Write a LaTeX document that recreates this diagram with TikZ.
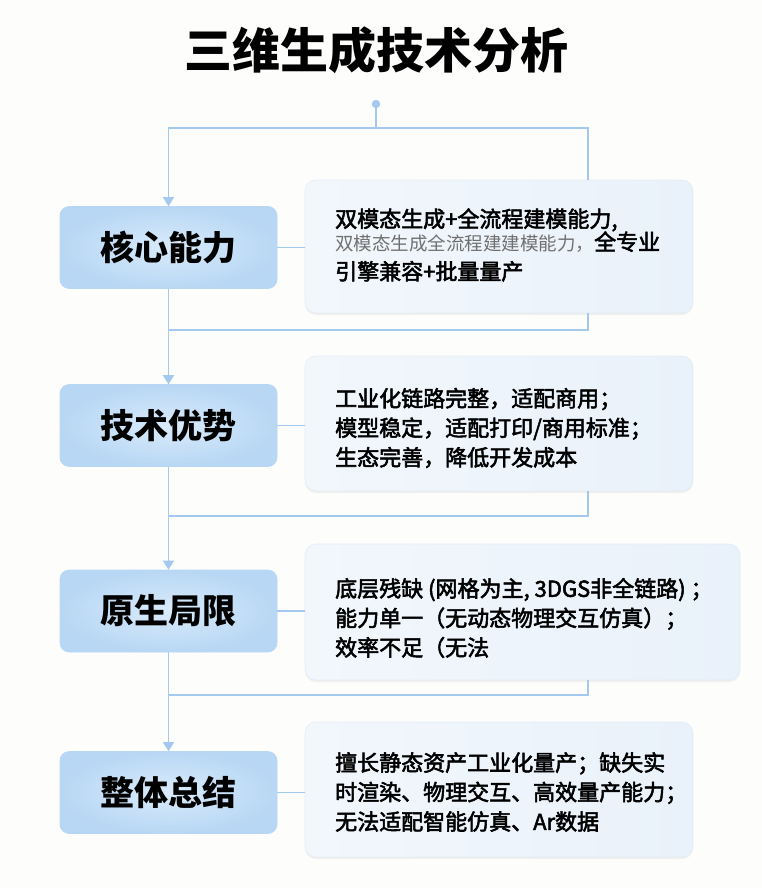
\documentclass[tikz,border=0pt]{standalone}
\usepackage{fontspec}
\setmainfont{Noto Sans CJK SC}
\newfontfamily\descfont[FakeBold=2.5]{Noto Sans CJK SC}
\newfontfamily\ghostfont{Noto Sans CJK SC}
\usetikzlibrary{arrows.meta,shadows}
\definecolor{bg}{HTML}{FDFDFB}
\definecolor{conncol}{HTML}{A4C9EE}
\definecolor{lblout}{HTML}{B8D7F4}
\definecolor{lblin}{HTML}{D9EBFB}
\definecolor{descL}{HTML}{F2F7FC}
\definecolor{descR}{HTML}{E9F1FA}
\definecolor{descborder}{HTML}{E3EDF7}
\definecolor{ghost}{HTML}{707070}
\tikzset{
  conn/.style={draw=conncol, line width=1.5pt},
  arr/.style={-{Triangle[width=11pt,length=9pt]}},
  lbl/.style={rectangle, rounded corners=9pt, inner color=lblin, outer color=lblout,
    draw=lblout, line width=0.6pt, minimum width=217pt, minimum height=82pt,
    font=\bfseries\fontsize{34}{40}\selectfont, text=black},
  descbox/.style={rectangle, rounded corners=11pt, left color=descL, right color=descR,
    draw=descborder, line width=0.6pt,
    drop shadow={opacity=0.10, shadow xshift=0pt, shadow yshift=-2pt}},
  desctext/.style={anchor=west, inner sep=0pt, align=left, text=black,
    font=\descfont\fontsize{22}{29.5}\selectfont},
  titlestyle/.style={font=\bfseries\fontsize{48}{54}\selectfont, text=black},
}
\begin{document}
\begin{tikzpicture}[x=1pt,y=-1pt]
\fill[bg] (0,0) rectangle (762,888);
\useasboundingbox (0,0) rectangle (762,888);

\node[titlestyle] (title) at (376,50) {三维生成技术分析};

% description boxes
\node[descbox, minimum width=388pt, minimum height=133pt] (d1) at (499,246.5) {};
\node[descbox, minimum width=388pt, minimum height=135pt] (d2) at (499,423.5) {};
\node[descbox, minimum width=435pt, minimum height=136pt] (d3) at (522.5,612) {};
\node[descbox, minimum width=388pt, minimum height=135pt] (d4) at (499,789.5) {};

% label boxes
\node[lbl] (c1) at (168.5,247.5) {核心能力};
\node[lbl] (c2) at (168.5,425.5) {技术优势};
\node[lbl] (c3) at (168.5,611) {原生局限};
\node[lbl] (c4) at (168.5,792.5) {整体总结};

% texts
\node[desctext] (t1) at (335,245) {双模态生成+全流程建模能力,\\[-6.5pt]{\ghostfont\color{ghost}\fontsize{18.5}{22}\selectfont 双模态生成全流程建建模能力，}全专业\\引擎兼容+批量量产};
\node[desctext] (t2) at (335,428) {工业化链路完整，适配商用；\\模型稳定，适配打印/商用标准；\\生态完善，降低开发成本};
\node[desctext] (t3) at (335,618) {底层残缺 (网格为主, 3DGS非全链路) ；\\能力单一（无动态物理交互仿真）；\\效率不足（无法};
\node[desctext] (t4) at (335,792) {擅长静态资产工业化量产；缺失实\\时渲染、物理交互、高效量产能力；\\无法适配智能仿真、Ar数据};

% connectors
\coordinate (start) at (376,104);
\coordinate (j0) at (376,128);
\coordinate (j1) at (168.5,330);
\coordinate (j2) at (168.5,516);
\coordinate (j3) at (168.5,695);
\fill[conncol] (start) circle (4.2pt);
\draw[conn, arr] (start) -- (j0) -| (c1.north);
\draw[conn] (j0) -| ([xshift=89pt]d1.north);

\draw[conn, arr] (c1.south) -- (c2.north);
\draw[conn] (j1) -| ([xshift=89pt]d1.south);
\draw[conn, arr] (c2.south) -- (c3.north);
\draw[conn] (j2) -| ([xshift=89pt]d2.south);
\draw[conn, arr] (c3.south) -- (c4.north);
\draw[conn] (j3) -| ([xshift=65.5pt]d3.south);

\draw[conn] (c1.east) -- (d1.west |- c1.east);
\draw[conn] (c2.east) -- (d2.west |- c2.east);
\draw[conn] (c3.east) -- (d3.west |- c3.east);
\draw[conn] (c4.east) -- (d4.west |- c4.east);
\end{tikzpicture}
\end{document}
